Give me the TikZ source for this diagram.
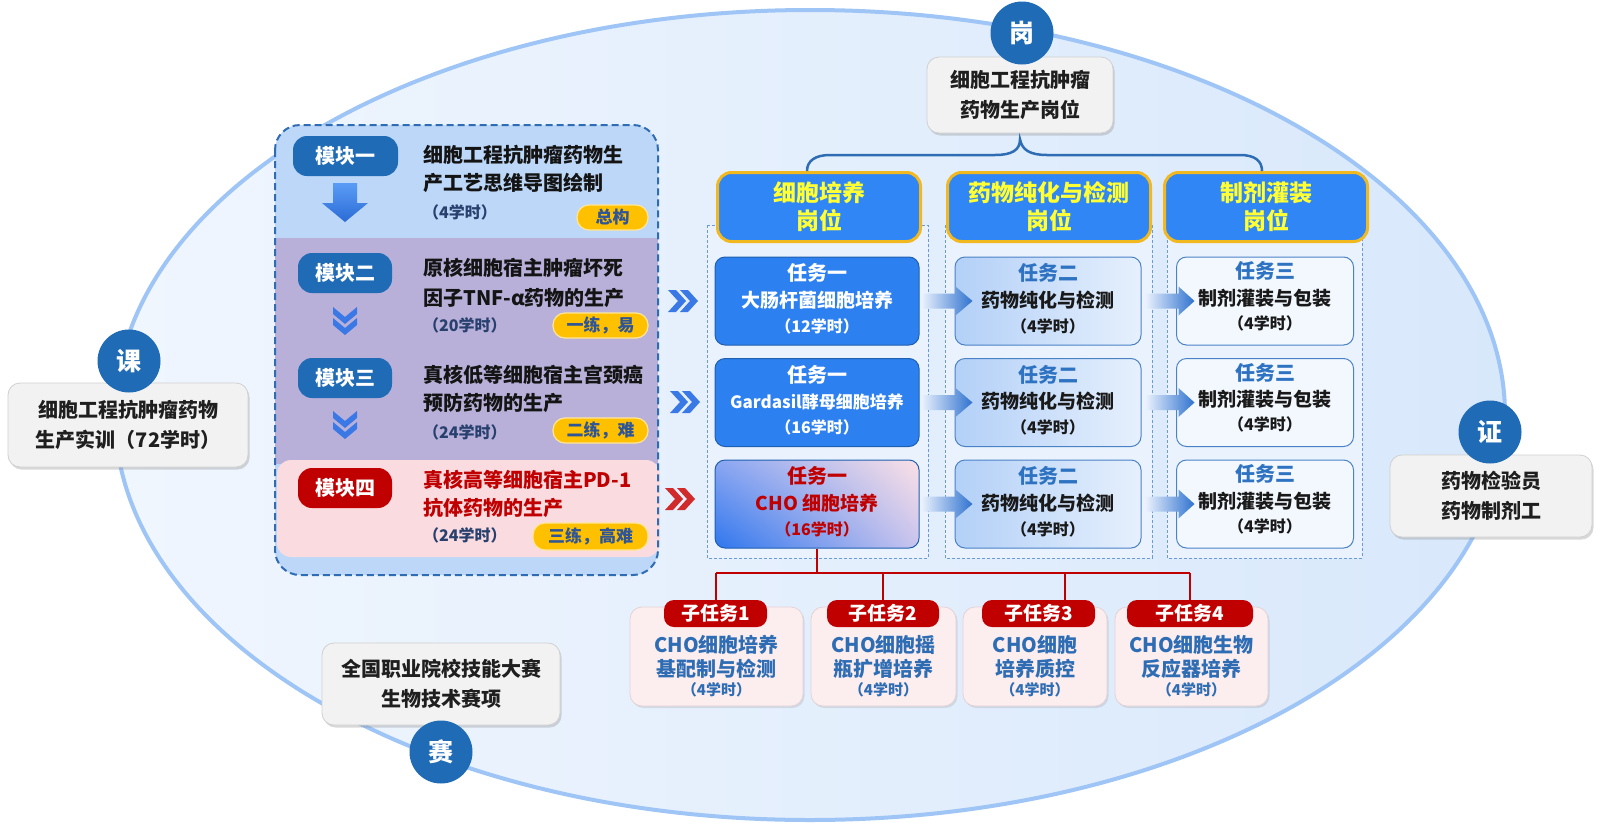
\documentclass[tikz,border=0pt]{standalone}
\usepackage{fontspec}
\setmainfont{Noto Sans CJK SC}
\usetikzlibrary{shadows,shadings}
\definecolor{cblue}{HTML}{1F6BB5}
\definecolor{ellL}{HTML}{F0F6FE}
\definecolor{ellR}{HTML}{D8E8FB}
\definecolor{ellline}{HTML}{9EC5F6}
\definecolor{boxgray}{HTML}{F2F2F2}
\definecolor{boxline}{HTML}{D0D0D0}
\definecolor{panelblue}{HTML}{BDD7F8}
\definecolor{panelpurple}{HTML}{B8B0D9}
\definecolor{panelpink}{HTML}{FADCE0}
\definecolor{paneldash}{HTML}{2E6DB4}
\definecolor{darkred}{HTML}{C00000}
\definecolor{tagfill}{HTML}{FFC000}
\definecolor{tagtext}{HTML}{2E5597}
\definecolor{hourtext}{HTML}{27406E}
\definecolor{hdrfill}{HTML}{2F86F4}
\definecolor{hdrline}{HTML}{F2B820}
\definecolor{hdrtext}{HTML}{FFFF33}
\definecolor{colfill}{HTML}{EAF2FD}
\definecolor{coldash}{HTML}{6A9BD8}
\definecolor{tfill}{HTML}{2D80F0}
\definecolor{tline}{HTML}{1F5FB0}
\definecolor{tbL}{HTML}{B3D0F7}
\definecolor{tbR}{HTML}{E6F0FD}
\definecolor{tbline}{HTML}{4A82C6}
\definecolor{tcfill}{HTML}{F3F8FE}
\definecolor{ttitle}{HTML}{2E72C2}
\definecolor{arrL}{HTML}{E6EFFC}
\definecolor{arrR}{HTML}{2F72CF}
\definecolor{chev}{HTML}{3A78E6}
\definecolor{chevred}{HTML}{D02A2A}
\definecolor{stfill}{HTML}{FCEDEF}
\definecolor{stline}{HTML}{E3D3D6}
\definecolor{sttext}{HTML}{2E6DB4}
\definecolor{arrowTop}{HTML}{5A9CF5}
\definecolor{arrowBot}{HTML}{2B6BD6}
\definecolor{HL}{HTML}{8AA6F2}
\definecolor{LL}{HTML}{2E76EE}
\definecolor{UR}{HTML}{FBE0E6}
\definecolor{LR}{HTML}{C9C4EE}
\newcommand\myfs[2]{\fontsize{#1}{#2}\selectfont}
\tikzset{
 sidebox/.style={rounded corners=12pt, fill=boxgray, draw=boxline, line width=0.8pt,
   drop shadow={opacity=0.3,shadow xshift=1.5pt,shadow yshift=-2.5pt},
   inner sep=0pt, align=center, font=\myfs{20}{30}\bfseries, text=black!88},
 badge/.style={circle, fill=cblue, minimum size=63pt, inner sep=0pt, text=white, font=\myfs{25}{25}\bfseries},
 modlabel/.style={rounded corners=14pt, fill=cblue, minimum height=40pt, inner sep=0pt, text=white, font=\myfs{20}{20}\bfseries},
 modtext/.style={anchor=west, inner sep=0pt, font=\myfs{20}{20}\bfseries, text=black!92},
 hourtxt/.style={anchor=west, inner sep=0pt, font=\myfs{16}{16}\bfseries, text=hourtext},
 tagbox/.style={rounded corners=12pt, fill=tagfill, draw=tagfill!40, line width=1.2pt, minimum height=25pt, inner sep=0pt, text=tagtext, font=\myfs{17}{17}\bfseries},
 hdr/.style={rounded corners=14pt, fill=hdrfill, draw=hdrline, line width=3pt, minimum width=203pt, minimum height=69pt, inner sep=0pt, align=center, text=hdrtext, font=\myfs{23}{28}\bfseries},
 coldashed/.style={draw=coldash, fill=colfill, line width=0.8pt, dash pattern=on 3pt off 2pt},
 taskA/.style={rounded corners=10pt, fill=tfill, draw=tline, line width=1pt, minimum width=204pt, minimum height=88pt, inner sep=0pt},
 taskR/.style={rounded corners=10pt, upper left=HL, lower left=LL, upper right=UR, lower right=LR, draw=tline, line width=1pt, minimum width=204pt, minimum height=88pt, inner sep=0pt},
 taskB/.style={rounded corners=10pt, left color=tbL, right color=tbR, draw=tbline, line width=1pt, minimum width=186pt, minimum height=88pt, inner sep=0pt},
 taskC/.style={rounded corners=10pt, fill=tcfill, draw=tbline, line width=1pt, minimum width=177pt, minimum height=88pt, inner sep=0pt},
 ttl/.style={inner sep=0pt, font=\myfs{20}{20}\bfseries},
 tmain/.style={inner sep=0pt, font=\myfs{19}{19}\bfseries},
 thour/.style={inner sep=0pt, font=\myfs{16}{16}\bfseries},
 flowarrow/.style={left color=arrL, right color=arrR},
 redline/.style={draw=darkred, line width=2pt},
 bracestyle/.style={draw=paneldash, line width=2.5pt},
 stbox/.style={rounded corners=12pt, fill=stfill, draw=stline, line width=0.8pt,
   drop shadow={opacity=0.2,shadow xshift=1.5pt,shadow yshift=-2pt}, minimum height=99pt, inner sep=0pt},
 sttag/.style={rounded corners=10pt, fill=darkred, minimum height=27pt, inner sep=0pt, text=white, font=\myfs{19}{19}\bfseries},
 sttxt/.style={inner sep=0pt, align=center, text=sttext, font=\myfs{20}{24}\bfseries},
 sthour/.style={inner sep=0pt, text=sttext, font=\myfs{15}{15}\bfseries},
 pics/chevd/.style={code={
   \fill[#1] (-12,0) -- (0,10) -- (12,0) -- (12,7) -- (0,17) -- (-12,7) -- cycle;
   \fill[#1] (-12,11) -- (0,21) -- (12,11) -- (12,18) -- (0,28) -- (-12,18) -- cycle;}},
 pics/chevd/.default=chev,
 pics/chevr/.style={code={
   \fill[#1] (0,-11) -- (8,-11) -- (18,0) -- (8,11) -- (0,11) -- (10,0) -- cycle;
   \fill[#1] (12,-11) -- (20,-11) -- (30,0) -- (20,11) -- (12,11) -- (22,0) -- cycle;}},
 pics/chevr/.default=chev,
}
\begin{document}
\begin{tikzpicture}[x=1pt,y=-1pt]
\useasboundingbox (0,0) rectangle (1600,830);
\fill[white] (0,0) rectangle (1600,830);
% big ellipse
\path[left color=ellL, right color=ellR] (810,415) ellipse [x radius=695, y radius=405];
\draw[ellline, line width=4pt] (810,415) ellipse [x radius=695, y radius=405];

% side boxes
\node[sidebox, minimum width=240pt, minimum height=84pt] (kebox) at (128,425) {细胞工程抗肿瘤药物\\生产实训（72学时）};
\node[sidebox, minimum width=186pt, minimum height=76pt] (gbox) at (1020,95) {细胞工程抗肿瘤\\药物生产岗位};
\node[sidebox, minimum width=202pt, minimum height=82pt] (zbox) at (1491,496) {药物检验员\\药物制剂工};
\node[sidebox, minimum width=238pt, minimum height=82pt] (sbox) at (441,684) {全国职业院校技能大赛\\生物技术赛项};
\node[badge] (ke) at (129,361) {课};
\node[badge] (gang) at (1022,33) {岗};
\node[badge] (zheng) at (1490,432) {证};
\node[badge] (sai) at (441,752) {赛};

% left panel
\fill[panelblue, rounded corners=25pt] (275,125) rectangle (658,575);
\fill[panelpurple] (275,238) rectangle (658,464);
\fill[panelpink, rounded corners=14pt] (277,460) rectangle (660,557);
\draw[paneldash, line width=2pt, dash pattern=on 7pt off 4pt, rounded corners=25pt] (275,125) rectangle (658,575);

\node[modlabel, minimum width=105pt] (m1) at (345.5,156) {模块一};
\node[modlabel, minimum width=94pt] (m2) at (345,273) {模块二};
\node[modlabel, minimum width=94pt] (m3) at (345,378) {模块三};
\node[modlabel, minimum width=94pt, fill=darkred] (m4) at (345,488) {模块四};
\shade[top color=arrowTop, bottom color=arrowBot] (333,183) -- (357,183) -- (357,203) -- (368,203) -- (345,222) -- (322,203) -- (333,203) -- cycle;
\pic at (345,307) {chevd=chev};
\pic at (345,411) {chevd=chev};

\node[modtext] (m1a) at (423,155) {细胞工程抗肿瘤药物生};
\node[modtext] (m1b) at (423,183) {产工艺思维导图绘制};
\node[hourtxt] (m1c) at (423,212) {（4学时）};
\node[modtext] (m2a) at (423,268) {原核细胞宿主肿瘤坏死};
\node[modtext] (m2b) at (423,298) {因子TNF-α药物的生产};
\node[hourtxt] (m2c) at (423,325) {（20学时）};
\node[modtext] (m3a) at (423,375) {真核低等细胞宿主宫颈癌};
\node[modtext] (m3b) at (423,403) {预防药物的生产};
\node[hourtxt] (m3c) at (423,432) {（24学时）};
\node[modtext, text=darkred] (m4a) at (423,480) {真核高等细胞宿主PD-1};
\node[modtext, text=darkred] (m4b) at (423,508) {抗体药物的生产};
\node[hourtxt] (m4c) at (423,535) {（24学时）};

\node[tagbox, minimum width=71pt] (tg1) at (612.5,217.5) {总构};
\node[tagbox, minimum width=95pt] (tg2) at (600.5,325.5) {一练，易};
\node[tagbox, minimum width=95pt] (tg3) at (600.5,430.5) {二练，难};
\node[tagbox, minimum width=115pt, minimum height=27pt] (tg4) at (590.5,536.5) {三练，高难};

\pic at (668,301) {chevr=chev};
\pic at (670,402) {chevr=chev};
\pic at (665,499) {chevr=chevred};

% columns
\draw[coldashed] (707,225) rectangle (928,558);
\draw[coldashed] (945,225) rectangle (1152,558);
\draw[coldashed] (1167,225) rectangle (1362,558);
\node[hdr] (h1) at (819,207) {细胞培养\\岗位};
\node[hdr] (h2) at (1049,207) {药物纯化与检测\\岗位};
\node[hdr] (h3) at (1266,207) {制剂灌装\\岗位};

% brace
\coordinate (braceL) at (807,171);
\coordinate (braceR) at (1262,171);
\coordinate (braceT) at ([yshift=-6pt]gbox.south);
\draw[bracestyle] (braceL) .. controls (807,161) and (815,155) .. (830,155) -- (995,155)
  .. controls (1012,155) and (1020,150) .. (braceT)
  .. controls (1022,150) and (1030,155) .. (1047,155) -- (1240,155)
  .. controls (1255,155) and (1262,161) .. (braceR);

% task column 1
\node[taskA] (t11) at (817,301) {};
\node[ttl, text=white] at (817,273) {任务一};
\node[tmain, text=white] at (817,300) {大肠杆菌细胞培养};
\node[thour, text=white] at (817,326) {（12学时）};
\node[taskA] (t12) at (817,402.5) {};
\node[ttl, text=white] at (817,374.5) {任务一};
\node[tmain, text=white, font=\myfs{17}{17}\bfseries] at (817,401.5) {Gardasil酵母细胞培养};
\node[thour, text=white] at (817,427.5) {（16学时）};
\node[taskR] (t13) at (817,504) {};
\node[ttl, text=darkred] at (817,476) {任务一};
\node[tmain, text=darkred] at (817,503) {CHO 细胞培养};
\node[thour, text=darkred] at (817,529) {（16学时）};

% task columns 2 and 3
\foreach \r/\y in {1/301,2/402.5,3/504}{
  \node[taskB] (t2\r) at (1048,\y) {};
  \node[ttl, text=ttitle] at (1048,\y-28) {任务二};
  \node[tmain, text=black!90] at (1048,\y-1) {药物纯化与检测};
  \node[thour, text=black!90] at (1048,\y+25) {（4学时）};
  \node[taskC] (t3\r) at (1265,\y) {};
  \node[ttl, text=ttitle] at (1265,\y-30) {任务三};
  \node[tmain, text=black!90] at (1265,\y-3) {制剂灌装与包装};
  \node[thour, text=black!90] at (1265,\y+22) {（4学时）};
}
\foreach \r in {1,2,3}{
  \shade[flowarrow] ([xshift=3pt]t1\r.east) ++(0,-7.5) -- ++(33,0) -- ++(0,-7) -- ++(17,14.5) -- ++(-17,14.5) -- ++(0,-7) -- ++(-33,0) -- cycle;
  \shade[flowarrow] ([xshift=5pt]t2\r.east) ++(0,-7.5) -- ++(32,0) -- ++(0,-7) -- ++(16,14.5) -- ++(-16,14.5) -- ++(0,-7) -- ++(-32,0) -- cycle;
}

% sub tasks
\node[stbox, minimum width=173pt] (s1) at (716.5,656.5) {};
\node[stbox, minimum width=145pt] (s2) at (883.5,656.5) {};
\node[stbox, minimum width=144pt] (s3) at (1035,656.5) {};
\node[stbox, minimum width=153pt] (s4) at (1191.5,656.5) {};
\coordinate (busL) at (716,573);
\coordinate (busR) at (1190,573);
\node[sttag, minimum width=103pt] (g1) at (715.5,613.5) {子任务1};
\node[sttag, minimum width=112pt] (g2) at (883,613.5) {子任务2};
\node[sttag, minimum width=113pt] (g3) at (1038.5,613.5) {子任务3};
\node[sttag, minimum width=126pt] (g4) at (1190,613.5) {子任务4};
\draw[redline] (t13.south) -- (t13.south |- busL);
\draw[redline] (busL) -- (busR);
\draw[redline] (busL) -- (g1.north -| busL);
\draw[redline] (g2.north |- busL) -- (g2.north);
\draw[redline] ([xshift=26pt]g3.north |- busL) -- ([xshift=26pt]g3.north);
\draw[redline] (busR) -- (g4.north -| busR);
\node[sttxt] at (716.5,657) {CHO细胞培养\\基配制与检测};
\node[sthour] at (716.5,690) {（4学时）};
\node[sttxt] at (883.5,657) {CHO细胞摇\\瓶扩增培养};
\node[sthour] at (883.5,690) {（4学时）};
\node[sttxt] at (1035,657) {CHO细胞\\培养质控};
\node[sthour] at (1035,690) {（4学时）};
\node[sttxt] at (1191.5,657) {CHO细胞生物\\反应器培养};
\node[sthour] at (1191.5,690) {（4学时）};
\end{tikzpicture}
\end{document}
